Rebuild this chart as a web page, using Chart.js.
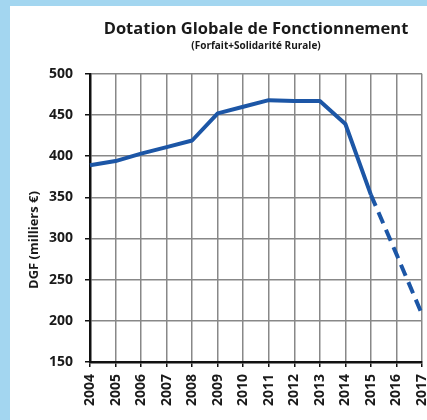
<!DOCTYPE html>
<html>
<head>
<meta charset="utf-8">
<script src="https://cdn.jsdelivr.net/npm/chart.js@4"></script>
<style>
  html, body { margin: 0; padding: 0; background: #a3d6f0; width: 427px; height: 420px; overflow: hidden; }
  #panel { position: absolute; left: 10px; top: 6px; width: 417px; height: 414px; background: #ffffff; }
  canvas { display: block; }
</style>
</head>
<body>
<div id="panel"><canvas id="dgfChart" width="417" height="414"></canvas></div>
<script>
// données
const years = ['2004', '2005', '2006', '2007', '2008', '2009', '2010', '2011', '2012', '2013', '2014', '2015', '2016', '2017'];
const dgf = [389, 394, 403, 411, 419, 452, 460, 468, 467, 467, 439, 353, 281, 208];
const yTicks = [150, 200, 250, 300, 350, 400, 450, 500];
const forecastFrom = 11; // pointillés à partir de 2015

const FONT = "'Open Sans', 'DejaVu Sans', sans-serif";
const lineBlue = '#1c56a6';

// titre de l'axe Y (centré comme dans l'original)
const yTitle = {
    id: 'yTitle',
    afterDraw(chart) {
        const ctx = chart.ctx;
        ctx.save();
        ctx.translate(24, 234);
        ctx.rotate(-Math.PI / 2);
        ctx.font = 'bold 13px ' + FONT;
        ctx.fillStyle = '#1a1a1a';
        ctx.textAlign = 'center';
        ctx.textBaseline = 'middle';
        ctx.fillText('DGF (milliers €)', 0, 0);
        ctx.restore();
    }
};

var ctx1 = document.getElementById('dgfChart').getContext('2d');
var dgfChart = new Chart(ctx1, {
    type: 'line',
    data: {
        labels: years,
        datasets: [{
            label: 'DGF',
            data: dgf,
            borderColor: lineBlue,
            borderWidth: 4,
            pointRadius: 0,
            tension: 0,
            borderJoinStyle: 'round',
            segment: {
                borderDash: c => c.p0DataIndex >= forecastFrom ? [12, 7] : undefined
            }
        }]
    },
    options: {
        responsive: false,
        animation: false,
        layout: { padding: { left: 0, right: 5, top: 0, bottom: 0 } },
        plugins: {
            legend: { display: false },
            tooltip: { enabled: false },
            title: {
                display: true,
                fullSize: false,
                text: 'Dotation Globale de Fonctionnement',
                color: '#1a1a1a',
                font: { family: FONT, size: 16.5, weight: 'bold' },
                padding: { top: 13, bottom: 0 }
            },
            subtitle: {
                display: true,
                fullSize: false,
                text: '(Forfait+Solidarité Rurale)',
                color: '#1a1a1a',
                font: { family: FONT, size: 10, weight: 'bold' },
                padding: { top: 1, bottom: 22 }
            }
        },
        scales: {
            x: {
                offset: false,
                grid: { color: '#888888', lineWidth: 1.5, tickColor: '#111', tickLength: 5 },
                border: { color: '#111', width: 2.5 },
                ticks: {
                    color: '#1a1a1a',
                    font: { family: FONT, size: 14, weight: 'bold' },
                    maxRotation: 90, minRotation: 90,
                    autoSkip: false,
                    padding: 7
                },
                afterFit(scale) {
                    scale.height = 58;
                    scale.paddingLeft = 0;
                    scale.paddingRight = 0;
                }
            },
            y: {
                min: 150,
                max: 500,
                afterBuildTicks(scale) {
                    scale.ticks = yTicks.map(v => ({ value: v }));
                },
                grid: { color: '#888888', lineWidth: 1.5, tickColor: '#111', tickLength: 5 },
                border: { color: '#111', width: 2.5 },
                ticks: {
                    color: '#1a1a1a',
                    font: { family: FONT, size: 14, weight: 'bold' },
                    padding: 12
                },
                afterFit(scale) {
                    scale.width = 80;
                }
            }
        }
    },
    plugins: [yTitle]
});
</script>
</body>
</html>
